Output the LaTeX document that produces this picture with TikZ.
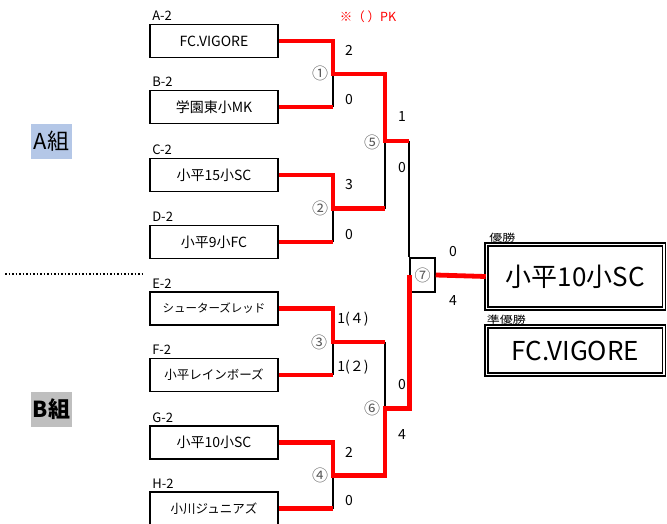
\documentclass[tikz,border=0pt]{standalone}
\usepackage{fontspec}
\usepackage{graphicx}
\setmainfont{Noto Sans CJK JP}
\usetikzlibrary{positioning}
\definecolor{winred}{RGB}{255,0,0}
\definecolor{grpa}{RGB}{180,199,231}
\definecolor{grpb}{RGB}{191,191,191}

\begin{document}
\begin{tikzpicture}[
    x=1pt, y=-1pt,
    team/.style={draw, line width=1.8pt, minimum width=128pt, minimum height=33pt, inner sep=0pt, font=\fontsize{14}{16}\selectfont},
    seedlbl/.style={inner sep=0pt, font=\fontsize{13}{15}\selectfont},
    winlbl/.style={inner sep=0pt, font=\fontsize{10}{12}\selectfont},
    score/.style={inner sep=0pt, font=\fontsize{14}{16}\selectfont},
    matchno/.style={inner sep=0pt, text=black!65, font=\fontsize{16}{18}\selectfont},
    win/.style={winred, line width=4.8pt},
    lose/.style={line width=1.8pt},
    result/.style={draw, double, line width=1.5pt, double distance=1.8pt, inner sep=0pt, minimum width=177.5pt, font=\fontsize{26}{30}\selectfont},
    group/.style={inner sep=0pt, minimum width=41pt, minimum height=35pt, font=\fontsize{22}{24}\selectfont}
]
    \useasboundingbox (0,0) rectangle (667,523);

    % Nodes
    \node[team] (a) at (214,41) {FC.VIGORE};
    \node[team] (b) at (214,107) {学園東小MK};
    \node[team] (c) at (214,175) {小平15小SC};
    \node[team] (d) at (214,242) {小平9小FC};
    \node[team, font=\fontsize{11.5}{13}\selectfont] (e) at (214,308.5) {シューターズレッド};
    \node[team, font=\fontsize{12.5}{14}\selectfont] (f) at (214,375) {小平レインボーズ};
    \node[team] (g) at (214,442.5) {小平10小SC};
    \node[team, font=\fontsize{12.5}{14}\selectfont] (h) at (214,508.5) {小川ジュニアズ};

    \coordinate (m1) at (333,74);
    \coordinate (m2) at (333,208.5);
    \coordinate (m3) at (333,342);
    \coordinate (m4) at (333,475.5);
    \coordinate (m5) at (385,141);
    \coordinate (m6) at (385,408.5);
    \node[draw, line width=1.5pt, minimum width=25pt, minimum height=34pt, inner sep=0pt] (f7) at (422.5,275) {};

    \node[result, minimum height=64pt] (champ) at (575.25,276.5) {小平10小SC};
    \node[result, minimum height=48pt] (runner) at (575.25,350.5) {FC.VIGORE};

    \node[group, fill=grpa] (grpA) at (51.5,141.5) {A組};
    \node[group, fill=grpb, font=\fontsize{22}{24}\selectfont\bfseries] (grpB) at (51.5,409.5) {B組};

    % Connections
    \draw[lose] (b.east -| m1) -- (m1);
    \draw[lose] (d.east -| m2) -- (m2);
    \draw[lose] (f.east -| m3) -- (m3);
    \draw[lose] (h.east -| m4) -- (m4);
    \draw[lose] (m2 -| m5) -- (m5);
    \draw[lose] (m3 -| m6) -- (m6);
    \draw[lose] (m5 -| f7.west) -- (f7.north west);

    \draw[win] (a.east) -| (m1) -| (m5) -- (m5 -| f7.west);
    \draw[win] (b.east) -- (b.east -| m1);
    \draw[win] (c.east) -| (m2) -- (m2 -| m5);
    \draw[win] (d.east) -- (d.east -| m2);
    \draw[win] (e.east) -| (m3) -- (m3 -| m6);
    \draw[win] (f.east) -- (f.east -| m3);
    \draw[win] (g.east) -| (m4) -| (m6) -- (m6 -| f7.west) -- (f7.west);
    \draw[win] (h.east) -- (h.east -| m4);
    \draw[win] (f7.east) -- (champ.west);

    \draw[dotted, line width=1.5pt] (5,274) -- (142,274);

    % Labels
    \node[seedlbl, above right=2.5pt and 3pt of a.north west] (la) {A-2};
    \node[seedlbl, above right=2.5pt and 3pt of b.north west] (lb) {B-2};
    \node[seedlbl, above right=2.5pt and 3pt of c.north west] (lc) {C-2};
    \node[seedlbl, above right=2.5pt and 3pt of d.north west] (ld) {D-2};
    \node[seedlbl, above right=2.5pt and 3pt of e.north west] (le) {E-2};
    \node[seedlbl, above right=2.5pt and 3pt of f.north west] (lf) {F-2};
    \node[seedlbl, above right=2.5pt and 3pt of g.north west] (lg) {G-2};
    \node[seedlbl, above right=2.5pt and 3pt of h.north west] (lh) {H-2};

    \node[winlbl, above right=1.5pt and 3.5pt of champ.north west] (lchamp) {\scalebox{1.3}[1]{優勝}};
    \node[winlbl, above right=1.5pt and 1pt of runner.north west] (lrunner) {\scalebox{1.3}[1]{準優勝}};
    \node[text=winred, inner sep=0pt, font=\fontsize{12.5}{14}\selectfont] (pk) at (368,17) {※（ ）PK};

    \node[matchno] (n1) at (320,73) {①};
    \node[matchno] (n2) at (320,208) {②};
    \node[matchno] (n3) at (319,342) {③};
    \node[matchno] (n4) at (320,475) {④};
    \node[matchno] (n5) at (372,142) {⑤};
    \node[matchno] (n6) at (372,408) {⑥};
    \node[matchno] (n7) at (f7) {⑦};

    \node[score] (s1a) at (349,50) {2};
    \node[score] (s1b) at (349,100) {0};
    \node[score] (s2a) at (349,185) {3};
    \node[score] (s2b) at (349,235) {0};
    \node[score] (s3a) at (353,319) {1(４)};
    \node[score] (s3b) at (353,367) {1(２)};
    \node[score] (s4a) at (349,452) {2};
    \node[score] (s4b) at (349,500) {0};
    \node[score] (s5a) at (402,117) {1};
    \node[score] (s5b) at (402,168) {0};
    \node[score] (s6a) at (402,385) {0};
    \node[score] (s6b) at (402,435) {4};
    \node[score] (s7a) at (453,252) {0};
    \node[score] (s7b) at (453,301) {4};
\end{tikzpicture}
\end{document}
